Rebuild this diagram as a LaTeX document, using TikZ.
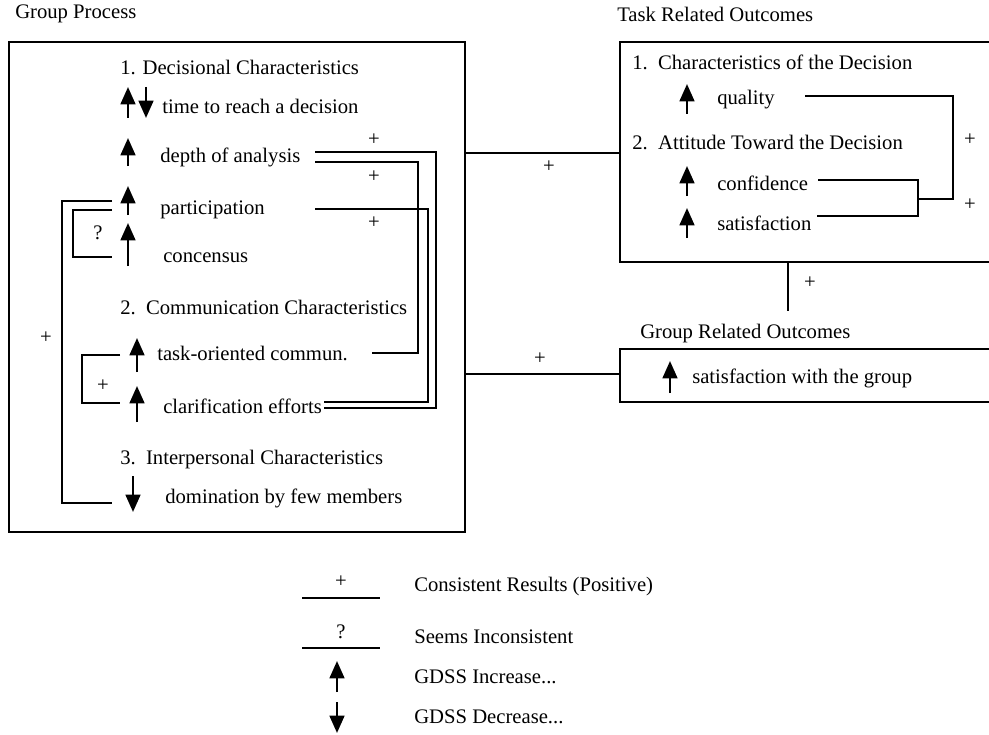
\documentclass[tikz,border=0pt]{standalone}
\usepackage{fontspec}
\setmainfont{Liberation Serif}
\usetikzlibrary{arrows.meta}
\tikzset{
  lbl/.style={anchor=west,inner sep=0pt},
  sign/.style={inner sep=0pt},
  link/.style={line width=1.5pt},
  boxline/.style={line width=1.5pt},
  incr/.style={line width=1.9pt,-{Triangle[width=11pt,length=13pt]}},
}

\begin{document}
\begin{tikzpicture}[x=0.75pt,y=-0.75pt,font=\fontsize{15.5}{18}\selectfont]
\useasboundingbox (0,0) rectangle (989,735);

\node[lbl] (gptitle) at (15,14) {Group Process};
\node[lbl] (trtitle) at (617,14) {Task Related Outcomes};
\node[lbl] (grtitle) at (640,334) {Group Related Outcomes};

\draw[boxline] (9,42) rectangle (465,532); %group process
\draw[boxline] (989,42) -- (620,42) -- (620,262) -- (989,262); %task related
\draw[boxline] (989,349) -- (620,349) -- (620,402) -- (989,402); %group related

% group process items
\node[lbl] (dec) at (120,67) {1. Decisional Characteristics};
\node[lbl] (time) at (162,106) {time to reach a decision};
\node[lbl] (depth) at (160,157) {depth of analysis};
\node[lbl] (part) at (160,210) {participation};
\node[lbl] (cons) at (163,258) {concensus};
\node[lbl] (comm) at (120,307) {2.\ \ Communication Characteristics};
\node[lbl] (task) at (157,353) {task-oriented commun.};
\node[lbl] (clar) at (163,406) {clarification efforts};
\node[lbl] (inter) at (120,460) {3.\ \ Interpersonal Characteristics};
\node[lbl] (dom) at (165,498) {domination by few members};

\draw[incr] (128,118) -- (128,87);
\draw[incr] (146,87) -- (146,118);
\draw[incr] (128,166) -- (128,138);
\draw[incr] (128,215) -- (128,186);
\draw[incr] (128,266) -- (128,223);
\draw[incr] (137,372) -- (137,338);
\draw[incr] (137,422) -- (137,386);
\draw[incr] (133,476) -- (133,512);

% brackets on the left
\coordinate (ob1) at (112,201);
\coordinate (ob2) at (112,503);
\coordinate (qb1) at (112,210);
\coordinate (qb2) at (112,257);
\coordinate (sb1) at (120,355);
\coordinate (sb2) at (120,403);
\draw[link] (ob1) -- (62,201) |- (ob2);
\draw[link] (qb1) -- (73,210) |- (qb2);
\draw[link] (sb1) -- (82,355) |- (sb2);
\node[sign] (obl) at (46,338) {+};
\node[sign] (qbl) at (98,233) {?};
\node[sign] (sbl) at (103,386) {+};

% links on the right
\coordinate (da1) at (315,152);
\coordinate (da2) at (315,162);
\coordinate (pa) at (315,209);
\coordinate (tc) at (372,353);
\coordinate (cl1) at (324,402);
\coordinate (cl2) at (324,408);
\draw[link] (da1) -- (436,152) |- (cl2);
\draw[link] (da2) -- (418,162) |- (tc);
\draw[link] (pa) -- (428,209) |- (cl1);
\node[sign] (dl1) at (374,140) {+};
\node[sign] (dl2) at (374,177) {+};
\node[sign] (dl3) at (374,223) {+};

% task related items
\node[lbl] (char) at (632,62) {1.\ \ Characteristics of the Decision};
\node[lbl] (qual) at (717,100) {quality};
\node[lbl] (att) at (632,142) {2.\ \ Attitude Toward the Decision};
\node[lbl] (conf) at (717,183) {confidence};
\node[lbl] (sat) at (717,223) {satisfaction};
\draw[incr] (687,114) -- (687,84);
\draw[incr] (687,196) -- (687,166);
\draw[incr] (687,238) -- (687,208);

\coordinate (ql) at (805,96);
\coordinate (cf) at (818,180);
\coordinate (st) at (817,216);
\draw[link] (ql) -| (953,199) -- (918,199);
\draw[link] (cf) -| (918,199) |- (st);
\node[sign] (tl1) at (970,140) {+};
\node[sign] (tl2) at (970,205) {+};

% group related item
\node[lbl] (satg) at (692,378) {satisfaction with the group};
\draw[incr] (670,393) -- (670,361);

% links between boxes
\draw[link] (465,153) -- (620,153);
\draw[link] (465,374) -- (620,374);
\draw[link] (788,262) -- (788,311);
\node[sign] (bl1) at (549,167) {+};
\node[sign] (bl2) at (540,359) {+};
\node[sign] (bl3) at (810,283) {+};

% legend
\draw[link] (302,598) -- (380,598);
\node[sign] (lg1) at (341,582) {+};
\node[lbl] (lt1) at (414,587) {Consistent Results (Positive)};
\draw[link] (302,648) -- (380,648);
\node[sign] (lg2) at (341,632) {?};
\node[lbl] (lt2) at (414,637) {Seems Inconsistent};
\draw[incr] (337,692) -- (337,661);
\node[lbl] (lt3) at (414,677) {GDSS Increase...};
\draw[incr] (337,702) -- (337,733);
\node[lbl] (lt4) at (414,717) {GDSS Decrease...};
\end{tikzpicture}
\end{document}
